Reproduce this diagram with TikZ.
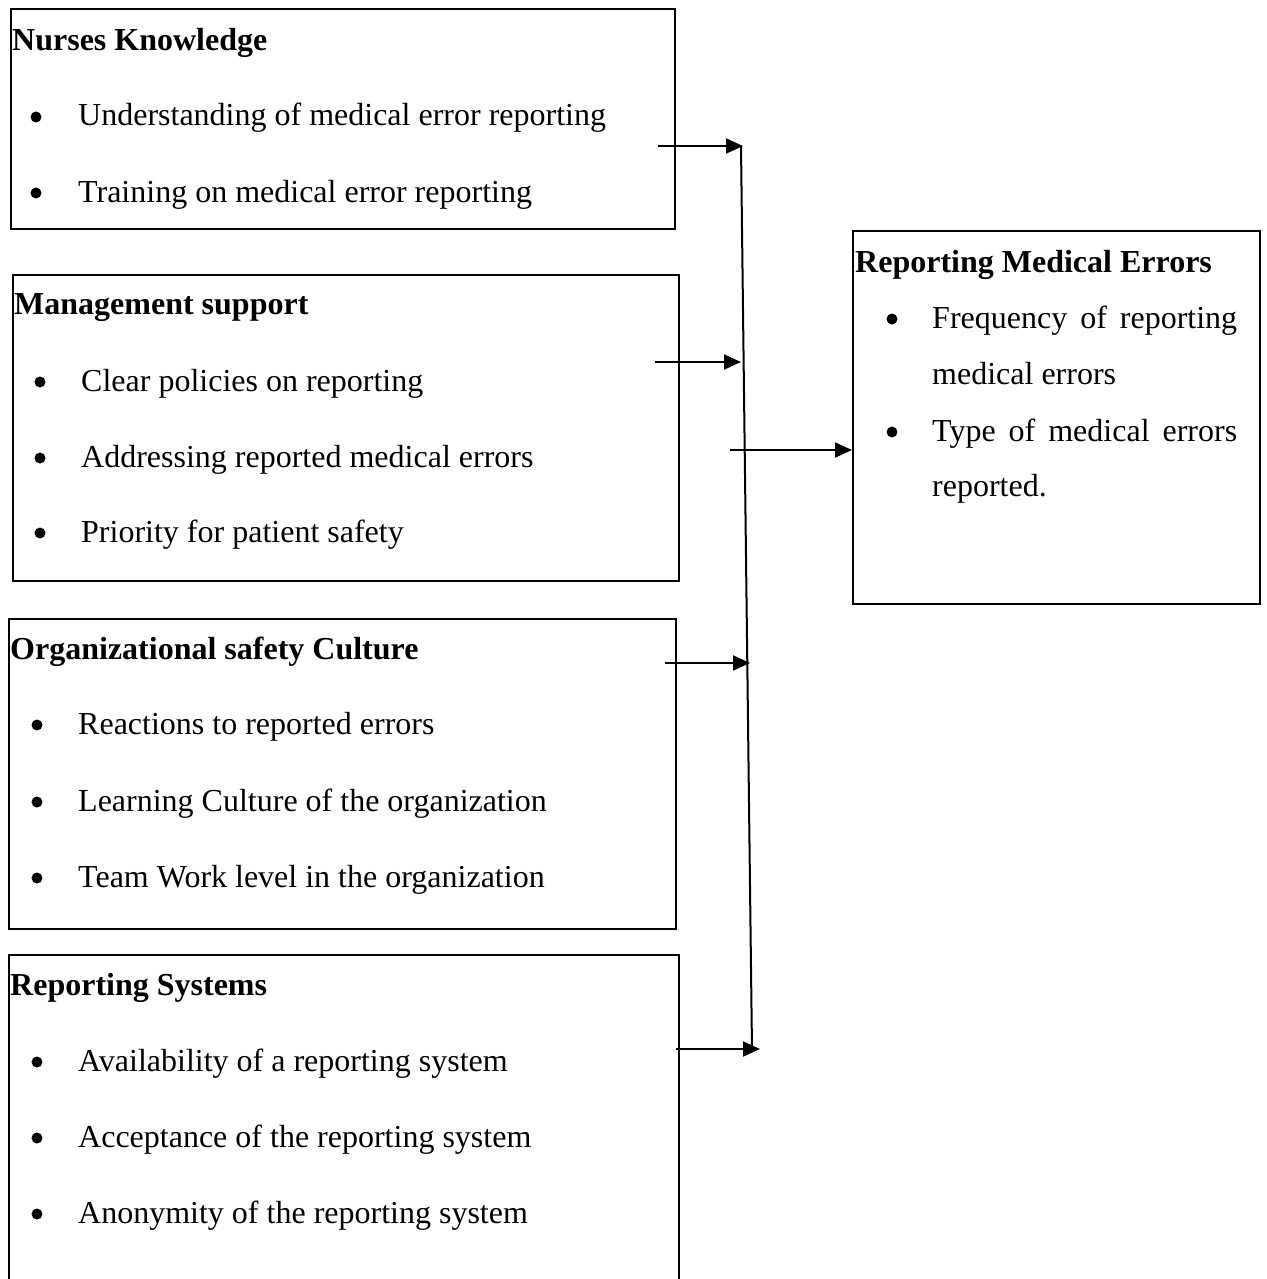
\documentclass[tikz,border=0pt]{standalone}
\usepackage{fontspec}
\setmainfont{Liberation Serif}
\usetikzlibrary{arrows.meta}
\begin{document}
\begin{tikzpicture}[x=1pt,y=-1pt,
  box/.style={draw=black, line width=2pt, inner sep=0pt, anchor=north west},
  txt/.style={anchor=base west, inner sep=0pt, font=\fontsize{32}{38}\selectfont},
  ttl/.style={txt, font=\fontsize{32}{38}\selectfont\bfseries},
  bul/.style={circle, fill=black, inner sep=0pt, minimum size=11pt},
  conn/.style={line width=2pt},
  arr/.style={line width=2pt, -{Triangle[length=17pt,width=15pt]}}]
\useasboundingbox (0,0) rectangle (1266,1279);
\clip (0,0) rectangle (1266,1279);
\fill[white] (0,0) rectangle (1266,1279);
% boxes
\node[box, minimum width=664pt, minimum height=220pt] (nk) at (10,8) {};
\node[box, minimum width=666pt, minimum height=306pt] (ms) at (12,274) {};
\node[box, minimum width=667pt, minimum height=310pt] (osc) at (8,618) {};
\node[box, minimum width=670pt, minimum height=340pt] (rs) at (8,954) {};
\node[box, minimum width=407pt, minimum height=373pt] (rme) at (852,230) {};
% box 1
\node[ttl] (nkt) at (12,51) {Nurses Knowledge};
\node[bul] (nkb1) at (36,117) {};
\node[txt] (nk1) at (78,126) {Understanding of medical error reporting};
\node[bul] (nkb2) at (36,193) {};
\node[txt] (nk2) at (78,202) {Training on medical error reporting};
% box 2
\node[ttl] (mst) at (14,314) {Management support};
\node[bul] (msb1) at (40,382) {};
\node[txt] (ms1) at (81,391) {Clear policies on reporting};
\node[bul] (msb2) at (40,458) {};
\node[txt] (ms2) at (81,467) {Addressing reported medical errors};
\node[bul] (msb3) at (40,533) {};
\node[txt] (ms3) at (81,542) {Priority for patient safety};
% box 3
\node[ttl] (osct) at (10,659) {Organizational safety Culture};
\node[bul] (oscb1) at (37,725) {};
\node[txt] (osc1) at (78,734) {Reactions to reported errors};
\node[bul] (oscb2) at (37,802) {};
\node[txt] (osc2) at (78,811) {Learning Culture of the organization};
\node[bul] (oscb3) at (37,878) {};
\node[txt] (osc3) at (78,887) {Team Work level in the organization};
% box 4
\node[ttl] (rst) at (10,995) {Reporting Systems};
\node[bul] (rsb1) at (37,1062) {};
\node[txt] (rs1) at (78,1071) {Availability of a reporting system};
\node[bul] (rsb2) at (37,1138) {};
\node[txt] (rs2) at (78,1147) {Acceptance of the reporting system};
\node[bul] (rsb3) at (37,1214) {};
\node[txt] (rs3) at (78,1223) {Anonymity of the reporting system};
% box 5
\node[ttl] (rmet) at (855,272) {Reporting Medical Errors};
\node[bul] (rmeb1) at (892,319) {};
\node[txt] (rme1) at (932,328) {\makebox[305pt][s]{Frequency of reporting}};
\node[txt] (rme1b) at (932,384) {medical errors};
\node[bul] (rmeb2) at (892,432) {};
\node[txt] (rme2) at (932,441) {\makebox[305pt][s]{Type of medical errors}};
\node[txt] (rme2b) at (932,496) {reported.};
% connectors
\coordinate (s1) at (658,146);
\coordinate (e1) at (743,146);
\coordinate (s2) at (655,362);
\coordinate (e2) at (741,362);
\coordinate (s3) at (665,663);
\coordinate (e3) at (750,663);
\coordinate (s4) at (676,1049);
\coordinate (e4) at (760,1049);
\coordinate (vtop) at (741,146);
\coordinate (vbot) at (752,1050);
\coordinate (s5) at (730,450);
\draw[conn] (vtop) -- (vbot);
\draw[arr] (s1) -- (e1);
\draw[arr] (s2) -- (e2);
\draw[arr] (s3) -- (e3);
\draw[arr] (s4) -- (e4);
\draw[arr] (s5) -- (s5 -| rme.west);
\end{tikzpicture}
\end{document}
